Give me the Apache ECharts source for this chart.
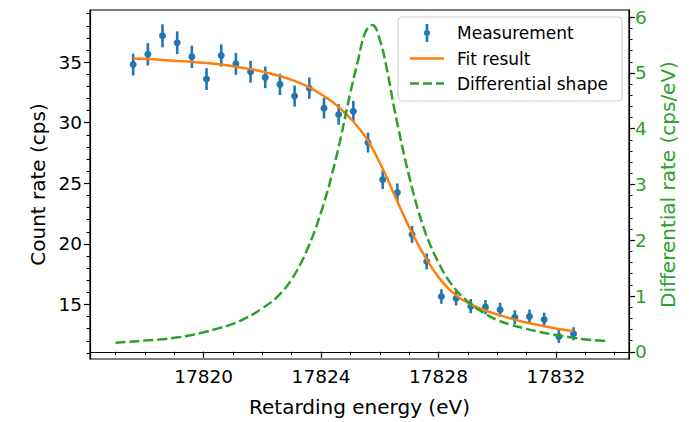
<!DOCTYPE html>
<html>
<head>
<meta charset="utf-8">
<script src="https://cdn.jsdelivr.net/npm/echarts@6/dist/echarts.min.js"></script>
<style>
  html, body { margin: 0; padding: 0; background: #fff; }
  #chart { width: 689px; height: 422px; }
</style>
</head>
<body>
<div id="chart"></div>
<script>
// measured points (eV, cps, error)
var energy = [17817.6, 17818.1, 17818.6, 17819.1, 17819.6, 17820.1, 17820.6, 17821.1, 17821.6, 17822.1,
    17822.6, 17823.1, 17823.6, 17824.1, 17824.6, 17825.1, 17825.6, 17826.1, 17826.6, 17827.1,
    17827.6, 17828.1, 17828.6, 17829.1, 17829.6, 17830.1, 17830.6, 17831.1, 17831.6, 17832.1, 17832.6];
var countRate = [34.8, 35.64, 37.17, 36.6, 35.44, 33.6, 35.55, 34.86, 34.2, 33.74,
    33.16, 32.2, 32.85, 31.2, 30.68, 30.95, 28.36, 25.3, 24.23, 20.78,
    18.55, 15.66, 15.52, 14.86, 14.78, 14.56, 13.95, 14.0, 13.76, 12.36, 12.58];
var countErr = [0.9, 0.92, 0.95, 0.94, 0.92, 0.9, 0.92, 0.91, 0.9, 0.89,
    0.88, 0.87, 0.88, 0.86, 0.85, 0.85, 0.82, 0.77, 0.76, 0.7,
    0.66, 0.6, 0.6, 0.59, 0.59, 0.58, 0.57, 0.57, 0.56, 0.54, 0.54];

// fit curve at the same energies
var fitRate = [35.3, 35.25, 35.18, 35.1, 35.02, 34.93, 34.8, 34.62, 34.42, 34.17,
    33.85, 33.45, 32.92, 32.2, 31.3, 30.1, 28.5, 26.2, 23.5, 20.9,
    18.7, 16.95, 15.75, 15.0, 14.5, 14.1, 13.75, 13.45, 13.2, 12.98, 12.8];

// differential shape (right axis)
var shapeEnergy = [17817, 17817.5, 17818, 17818.5, 17819, 17819.5, 17820, 17820.5, 17821, 17821.5,
    17822, 17822.5, 17823, 17823.5, 17824, 17824.5, 17825, 17825.25, 17825.5, 17825.75,
    17826, 17826.25, 17826.5, 17827, 17827.5, 17828, 17828.5, 17829, 17829.5, 17830,
    17830.5, 17831, 17831.5, 17832, 17832.5, 17833, 17833.5, 17833.7];
var shapeRate = [0.16, 0.18, 0.2, 0.22, 0.25, 0.29, 0.35, 0.42, 0.5, 0.62,
    0.78, 0.98, 1.3, 1.8, 2.5, 3.45, 4.65, 5.2, 5.72, 5.86,
    5.6, 5.05, 4.35, 3.15, 2.22, 1.6, 1.17, 0.9, 0.71, 0.57,
    0.48, 0.41, 0.35, 0.3, 0.26, 0.22, 0.2, 0.19];

var xTicks = [17820, 17824, 17828, 17832];
var yTicks = [15, 20, 25, 30, 35];
var y2Ticks = [0, 1, 2, 3, 4, 5, 6];

var xMinor = [], yMinor = [], y2Minor = [];
for (var i = 17817; i <= 17834; i++) xMinor.push(i);
for (var i = 11; i <= 39; i++) yMinor.push(i);
for (var i = 0; i <= 30; i++) y2Minor.push(+(i * 0.2).toFixed(1));

var FONT = 'DejaVu Sans';
var blue = '#1f77b4', orange = '#ff7f0e', green = '#2ca02c';

var pts = [], bars = [], fit = [], shape = [];
for (var i = 0; i < energy.length; i++) {
    pts.push([energy[i], countRate[i]]);
    bars.push([energy[i], countRate[i] - countErr[i], countRate[i] + countErr[i]]);
    fit.push([energy[i], fitRate[i]]);
}
for (var i = 0; i < shapeEnergy.length; i++) {
    shape.push([shapeEnergy[i], shapeRate[i]]);
}

var xRange = { min: 17816.13, max: 17834.49 };
var yRange = { min: 10.5, max: 39.3 };
var y2Range = { min: -0.13, max: 6.13 };

// legend handles (errorbar, solid line, dashed line)
var iconErr = 'path://M0,0 L2.6,0 L2.6,18 L0,18 Z M-1.7,9 A3,3 0 1,1 4.3,9 A3,3 0 1,1 -1.7,9 Z';
var iconLine = 'path://M0,0 L34,0 L34,2.5 L0,2.5 Z';
var iconDash = 'path://M0,0 L9,0 L9,2.5 L0,2.5 Z M13,0 L22,0 L22,2.5 L13,2.5 Z M26,0 L34,0 L34,2.5 L26,2.5 Z';

var myChart = echarts.init(document.getElementById('chart'), null, { renderer: 'svg' });

var option = {
    animation: false,
    textStyle: { fontFamily: FONT },
    grid: {
        left: 90, right: 60, top: 10, bottom: 63,
        show: true, borderColor: '#000', borderWidth: 1.2, backgroundColor: 'transparent'
    },
    legend: {
        orient: 'vertical',
        left: 398, top: 17,
        padding: [7, 14, 9, 12],
        itemWidth: 34, itemHeight: 18, itemGap: 8,
        symbolKeepAspect: true,
        backgroundColor: 'rgba(255,255,255,0.8)',
        borderColor: '#cccccc', borderWidth: 1, borderRadius: 4,
        textStyle: { fontFamily: FONT, fontSize: 17, color: '#000', padding: [0, 0, 0, 8] },
        data: [
            { name: 'Measurement', icon: iconErr, itemStyle: { color: blue, opacity: 1 } },
            { name: 'Fit result', icon: iconLine, itemStyle: { color: orange } },
            { name: 'Differential shape', icon: iconDash, itemStyle: { color: green } }
        ]
    },
    xAxis: [{
        type: 'value', min: xRange.min, max: xRange.max,
        name: 'Retarding energy (eV)', nameLocation: 'middle', nameGap: 38,
        nameTextStyle: { fontFamily: FONT, fontSize: 20, color: '#000' },
        axisLine: { lineStyle: { color: '#000', width: 1.2 } },
        axisTick: { customValues: xTicks, length: 6, lineStyle: { color: '#000', width: 1.2 } },
        axisLabel: {
            customValues: xTicks, fontFamily: FONT, fontSize: 18.5, color: '#000', margin: 8,
            formatter: function (v) { return String(v); }
        },
        splitLine: { show: false }
    }, {
        type: 'value', min: xRange.min, max: xRange.max, position: 'bottom',
        axisLine: { show: false },
        axisTick: { customValues: xMinor, length: 3.5, lineStyle: { color: '#000', width: 1 } },
        axisLabel: { show: false },
        splitLine: { show: false }
    }],
    yAxis: [{
        type: 'value', min: yRange.min, max: yRange.max, position: 'left',
        name: 'Count rate (cps)', nameLocation: 'middle', nameGap: 40, nameRotate: 90,
        nameTextStyle: { fontFamily: FONT, fontSize: 20, color: '#000' },
        axisLine: { show: true, lineStyle: { color: '#000', width: 1.2 } },
        axisTick: { show: true, customValues: yTicks, length: 6, lineStyle: { color: '#000', width: 1.2 } },
        axisLabel: { customValues: yTicks, fontFamily: FONT, fontSize: 18.5, color: '#000', margin: 8 },
        splitLine: { show: false }
    }, {
        type: 'value', min: yRange.min, max: yRange.max, position: 'left',
        axisLine: { show: false },
        axisTick: { show: true, customValues: yMinor, length: 3.5, lineStyle: { color: '#000', width: 1 } },
        axisLabel: { show: false },
        splitLine: { show: false }
    }, {
        type: 'value', min: y2Range.min, max: y2Range.max, position: 'right',
        name: 'Differential rate (cps/eV)', nameLocation: 'middle', nameGap: 24, nameRotate: 90,
        nameTextStyle: { fontFamily: FONT, fontSize: 20, color: green },
        axisLine: { show: true, lineStyle: { color: '#000', width: 1.2 } },
        axisTick: { show: true, customValues: y2Ticks, length: 6, lineStyle: { color: '#000', width: 1.2 } },
        axisLabel: { customValues: y2Ticks, fontFamily: FONT, fontSize: 18.5, color: green, margin: 6 },
        splitLine: { show: false }
    }, {
        type: 'value', min: y2Range.min, max: y2Range.max, position: 'right',
        axisLine: { show: false },
        axisTick: { show: true, customValues: y2Minor, length: 3.5, lineStyle: { color: '#000', width: 1 } },
        axisLabel: { show: false },
        splitLine: { show: false }
    }],
    series: [{
        name: 'Measurement',
        type: 'custom',
        xAxisIndex: 0, yAxisIndex: 0,
        data: bars,
        renderItem: function (params, api) {
            var p1 = api.coord([api.value(0), api.value(1)]);
            var p2 = api.coord([api.value(0), api.value(2)]);
            return {
                type: 'line',
                shape: { x1: p1[0], y1: p1[1], x2: p2[0], y2: p2[1] },
                style: { stroke: blue, lineWidth: 2.6 }
            };
        },
        itemStyle: { color: blue },
        z: 2
    }, {
        name: 'Measurement',
        type: 'scatter',
        xAxisIndex: 0, yAxisIndex: 0,
        data: pts,
        symbol: 'circle', symbolSize: 7,
        itemStyle: { color: blue, opacity: 1 },
        z: 3
    }, {
        name: 'Fit result',
        type: 'line',
        xAxisIndex: 0, yAxisIndex: 0,
        data: fit,
        smooth: 0.4,
        symbol: 'none',
        lineStyle: { color: orange, width: 2.5 },
        itemStyle: { color: orange },
        z: 4
    }, {
        name: 'Differential shape',
        type: 'line',
        xAxisIndex: 0, yAxisIndex: 2,
        data: shape,
        smooth: 0.4,
        symbol: 'none',
        lineStyle: { color: green, width: 2.5, type: [10, 4] },
        itemStyle: { color: green },
        z: 5
    }]
};

myChart.setOption(option);
</script>
</body>
</html>
